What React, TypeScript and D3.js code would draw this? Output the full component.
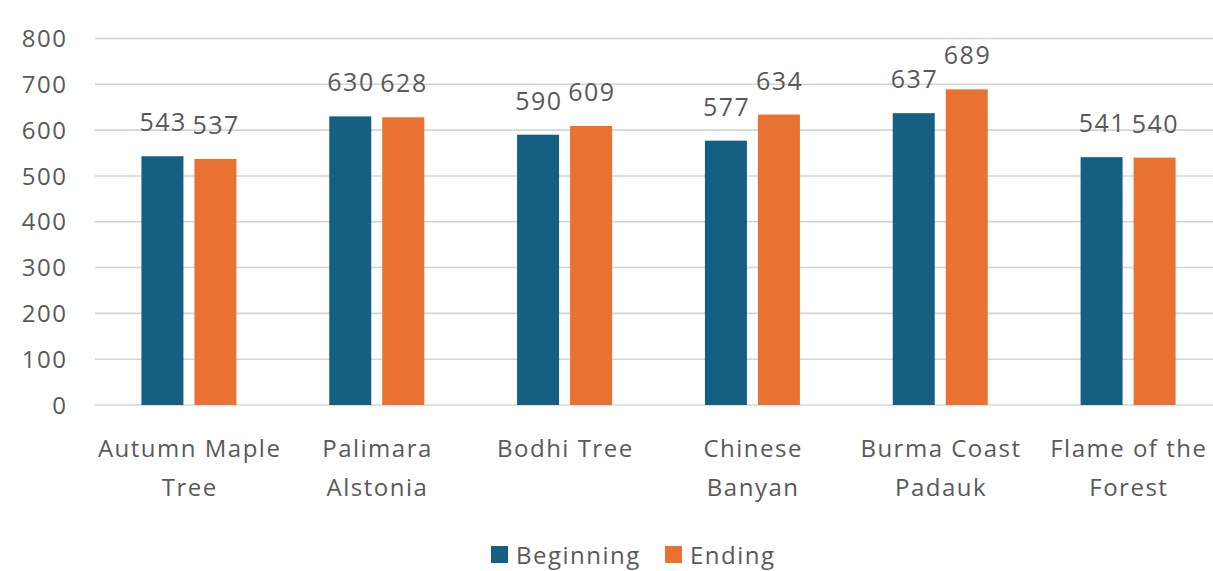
import React from "react";
import * as d3 from "d3";

const categories = [
  "Autumn Maple\nTree",
  "Palimara\nAlstonia",
  "Bodhi Tree",
  "Chinese\nBanyan",
  "Burma Coast\nPadauk",
  "Flame of the\nForest",
];
const beginning = [543, 630, 590, 577, 637, 541];
const ending = [537, 628, 609, 634, 689, 540];
const seriesNames = ["Beginning", "Ending"];
const seriesColors = ["#156082", "#E97132"];
const yTicks = [0, 100, 200, 300, 400, 500, 600, 700, 800];

const W = 1213;
const H = 571;
const FONT = "'Open Sans', sans-serif";
const TEXT = "#595959";
const LS = 1.5;

export default function App() {
  const x = d3.scaleBand<string>().domain(categories).range([95, 1222]).padding(0);
  const y = d3.scaleLinear().domain([0, 800]).range([405, 38.5]);
  const barW = 42;
  const gap = 11;
  const series = [beginning, ending];

  return (
    <svg
      width={W}
      height={H}
      style={{ position: "absolute", top: 0, left: 0, background: "#fff" }}
      fontFamily={FONT}
    >
      {yTicks.map((t) => (
        <g key={t}>
          <line x1={95} x2={1222} y1={y(t)} y2={y(t)} stroke="#d4d4d4" strokeWidth={1.6} />
          <text x={66 + LS} y={y(t)} dy="0.36em" textAnchor="end" fontSize={24} letterSpacing={LS} fill={TEXT}>
            {t}
          </text>
        </g>
      ))}
      {categories.map((c, i) => {
        const cx = (x(c) as number) + x.bandwidth() / 2;
        return (
          <g key={c}>
            {series.map((vals, s) => {
              const bx = s === 0 ? cx - gap / 2 - barW : cx + gap / 2;
              const v = vals[i];
              return (
                <g key={s}>
                  <rect x={bx} y={y(v)} width={barW} height={y(0) - y(v)} fill={seriesColors[s]} />
                  <text
                    x={bx + barW / 2 + LS / 2}
                    y={y(v) - 25}
                    textAnchor="middle"
                    fontSize={25}
                    letterSpacing={LS}
                    fill={TEXT}
                  >
                    {v}
                  </text>
                </g>
              );
            })}
            {c.split("\n").map((line, li) => (
              <text
                key={li}
                x={cx + LS / 2}
                y={457 + li * 39}
                textAnchor="middle"
                fontSize={24}
                letterSpacing={LS}
                fill={TEXT}
              >
                {line}
              </text>
            ))}
          </g>
        );
      })}
      {seriesNames.map((n, s) => {
        const lx = s === 0 ? 491 : 665;
        return (
          <g key={n}>
            <rect x={lx} y={546} width={17} height={17} fill={seriesColors[s]} />
            <text x={lx + 25} y={555} dy="0.36em" fontSize={24} letterSpacing={LS} fill={TEXT}>
              {n}
            </text>
          </g>
        );
      })}
    </svg>
  );
}
